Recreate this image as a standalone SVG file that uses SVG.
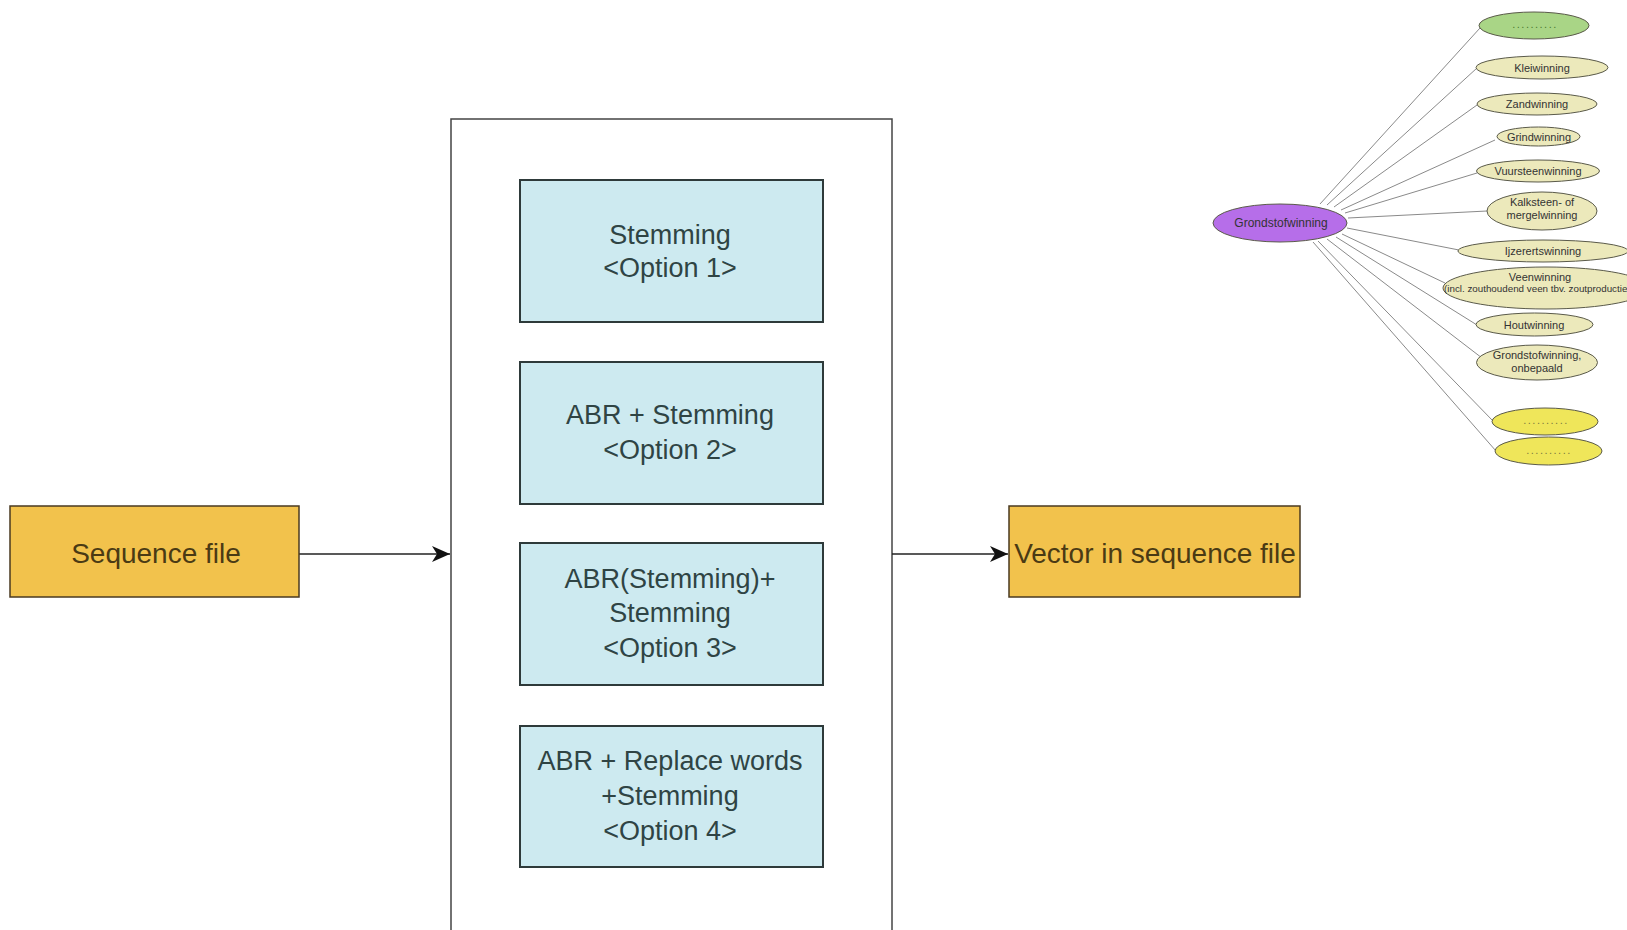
<svg xmlns="http://www.w3.org/2000/svg" width="1627" height="930" viewBox="0 0 1627 930">
<style>
.bg{fill:#ffffff}
.file{fill:#f2c24c;stroke:#4a3a20;stroke-width:1.5}
.filet{font-family:"Liberation Sans",Arial,sans-serif;font-size:28px;fill:#4a3a14;text-anchor:middle}
.cont{fill:#ffffff;stroke:#444444;stroke-width:1.5}
.opt{fill:#cdeaf0;stroke:#2e3a3a;stroke-width:2}
.optt{font-family:"Liberation Sans",Arial,sans-serif;font-size:27px;fill:#2f4444;text-anchor:middle}
.conn{stroke:#222222;stroke-width:1.5;fill:none}
.ln{stroke:#8a8a8a;stroke-width:1;fill:none}
.el{stroke:#5a5a4a;stroke-width:1}
.beige{fill:#ece9bb}
.yel{fill:#efe65a}
.grn{fill:#a9d586}
.pur{fill:#b66ee9}
.et{font-family:"Liberation Sans",Arial,sans-serif;font-size:11px;fill:#333333;text-anchor:middle}
.es{font-family:"Liberation Sans",Arial,sans-serif;font-size:9.8px;fill:#333333;text-anchor:start}
.dots{font-family:"Liberation Sans",Arial,sans-serif;font-size:11px;fill:#7a7a40;text-anchor:middle;letter-spacing:1.5px}
</style>
<defs>
<marker id="arr" markerWidth="20" markerHeight="16" refX="18" refY="8" orient="auto" markerUnits="userSpaceOnUse">
<path d="M0,0 L18,8 L0,16 L5,8 Z" fill="#111111"/>
</marker>
</defs>
<rect class="bg" x="0" y="0" width="1627" height="930"/>

<g id="container">
<rect class="cont" x="451" y="119" width="441" height="812"/>
</g>

<g id="connectors">
<line class="conn" x1="299" y1="554" x2="450" y2="554" marker-end="url(#arr)"/>
<line class="conn" x1="892" y1="554" x2="1008" y2="554" marker-end="url(#arr)"/>
<line class="ln" x1="1320" y1="204" x2="1480" y2="28"/>
<line class="ln" x1="1327" y1="205" x2="1477" y2="68"/>
<line class="ln" x1="1334" y1="207" x2="1477" y2="105"/>
<line class="ln" x1="1341" y1="210" x2="1495" y2="140"/>
<line class="ln" x1="1345" y1="213" x2="1477" y2="173"/>
<line class="ln" x1="1348" y1="218" x2="1487" y2="211"/>
<line class="ln" x1="1347" y1="228" x2="1459" y2="250"/>
<line class="ln" x1="1342" y1="234" x2="1445" y2="283"/>
<line class="ln" x1="1336" y1="237" x2="1477" y2="325"/>
<line class="ln" x1="1327" y1="239" x2="1482" y2="358"/>
<line class="ln" x1="1318" y1="241" x2="1493" y2="421"/>
<line class="ln" x1="1313" y1="242" x2="1496" y2="451"/>
</g>

<g id="sequence-file">
<rect class="file" x="10" y="506" width="289" height="91"/>
<text class="filet" x="156" y="563">Sequence file</text>
</g>

<g id="vector-file">
<rect class="file" x="1009" y="506" width="291" height="91"/>
<text class="filet" x="1155" y="563">Vector in sequence file</text>
</g>

<g id="option1">
<rect class="opt" x="520" y="180" width="303" height="142"/>
<text class="optt" x="670" y="244">Stemming</text>
<text class="optt" x="670" y="277">&lt;Option 1&gt;</text>
</g>

<g id="option2">
<rect class="opt" x="520" y="362" width="303" height="142"/>
<text class="optt" x="670" y="424">ABR + Stemming</text>
<text class="optt" x="670" y="459">&lt;Option 2&gt;</text>
</g>

<g id="option3">
<rect class="opt" x="520" y="543" width="303" height="142"/>
<text class="optt" x="670" y="588">ABR(Stemming)+</text>
<text class="optt" x="670" y="622">Stemming</text>
<text class="optt" x="670" y="657">&lt;Option 3&gt;</text>
</g>

<g id="option4">
<rect class="opt" x="520" y="726" width="303" height="141"/>
<text class="optt" x="670" y="770">ABR + Replace words</text>
<text class="optt" x="670" y="805">+Stemming</text>
<text class="optt" x="670" y="840">&lt;Option 4&gt;</text>
</g>

<g id="grondstofwinning">
<ellipse class="el pur" cx="1280" cy="223" rx="67" ry="19"/>
<text class="et" x="1281" y="227" style="font-size:12px">Grondstofwinning</text>
</g>

<g id="green-dots">
<ellipse class="el grn" cx="1534" cy="25.5" rx="55" ry="13.5"/>
<text class="dots" x="1535" y="28" style="fill:#4a7a30">..........</text>
</g>

<g id="kleiwinning">
<ellipse class="el beige" cx="1542" cy="67.5" rx="66" ry="11.5"/>
<text class="et" x="1542" y="71.5">Kleiwinning</text>
</g>

<g id="zandwinning">
<ellipse class="el beige" cx="1537" cy="104" rx="60" ry="11"/>
<text class="et" x="1537" y="108">Zandwinning</text>
</g>

<g id="grindwinning">
<ellipse class="el beige" cx="1538.5" cy="136.5" rx="41.5" ry="9.5"/>
<text class="et" x="1539" y="140.5">Grindwinning</text>
</g>

<g id="vuursteenwinning">
<ellipse class="el beige" cx="1538" cy="171" rx="61.5" ry="11"/>
<text class="et" x="1538" y="175">Vuursteenwinning</text>
</g>

<g id="kalksteen">
<ellipse class="el beige" cx="1542" cy="211" rx="55" ry="19"/>
<text class="et" x="1542" y="206">Kalksteen- of</text>
<text class="et" x="1542" y="219">mergelwinning</text>
</g>

<g id="ijzerertswinning">
<ellipse class="el beige" cx="1543" cy="251" rx="85" ry="11"/>
<text class="et" x="1543" y="255">Ijzerertswinning</text>
</g>

<g id="veenwinning">
<ellipse class="el beige" cx="1546" cy="288" rx="103" ry="21"/>
<text class="et" x="1540" y="281">Veenwinning</text>
<text class="es" x="1444" y="292">(incl. zouthoudend veen tbv. zoutproductie</text>
</g>

<g id="houtwinning">
<ellipse class="el beige" cx="1534.5" cy="324.5" rx="58.5" ry="11.5"/>
<text class="et" x="1534" y="328.5">Houtwinning</text>
</g>

<g id="onbepaald">
<ellipse class="el beige" cx="1537" cy="362.5" rx="60.5" ry="17.5"/>
<text class="et" x="1537" y="359">Grondstofwinning,</text>
<text class="et" x="1537" y="372">onbepaald</text>
</g>

<g id="yellow-dots-1">
<ellipse class="el yel" cx="1545" cy="421.5" rx="53" ry="13.5"/>
<text class="dots" x="1546" y="424">..........</text>
</g>

<g id="yellow-dots-2">
<ellipse class="el yel" cx="1548.5" cy="451" rx="53.5" ry="14"/>
<text class="dots" x="1549" y="454">..........</text>
</g>
</svg>
